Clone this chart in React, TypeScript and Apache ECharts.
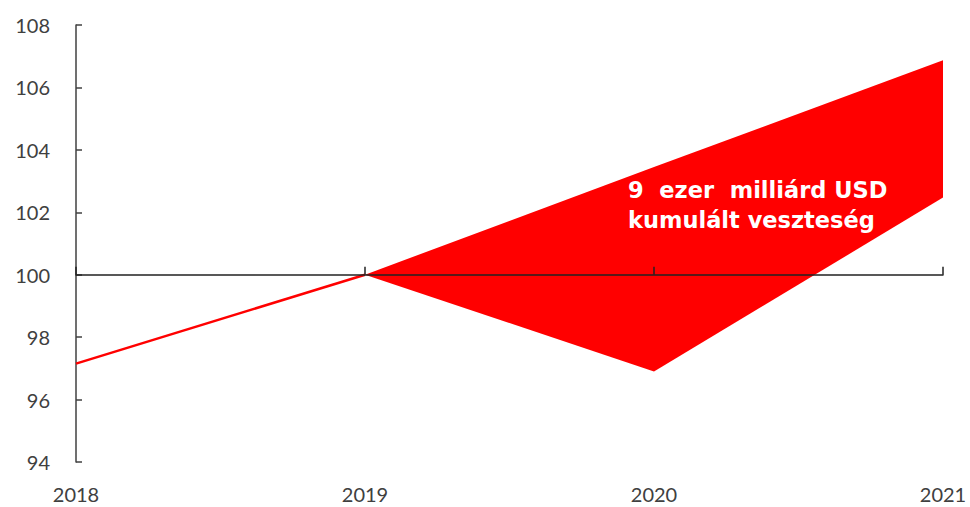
import React, { useEffect, useRef } from "react";
import * as echarts from "echarts";

const years = ["2018", "2019", "2020", "2021"];
const history = [97.15, 100, null, null];
const upper = [null, 100, 103.45, 106.87];
const lower = [null, 100, 96.9, 102.47];
const yTicks = { min: 94, max: 108, interval: 2 };
const noteLines = ["9  ezer  milliárd USD", "kumulált veszteség"];

export default function App() {
  const ref = useRef<HTMLDivElement>(null);
  useEffect(() => {
    if (!ref.current) return;
    const chart = echarts.init(ref.current, null, { renderer: "svg" });
    const gridTop = 25;
    const gridBottom = 45;
    const gridH = 507 - gridTop - gridBottom;
    const zeroOffset = -gridH * (100 - yTicks.min) / (yTicks.max - yTicks.min);
    const diff = upper.map((u, i) => (u == null || lower[i] == null ? null : +(u - (lower[i] as number)).toFixed(3)));
    const axisColor = "#404040";
    chart.setOption({
      animation: false,
      grid: { left: 76, right: 27, top: gridTop, bottom: gridBottom, containLabel: false },
      xAxis: [
        {
          type: "category",
          data: years,
          boundaryGap: false,
          position: "bottom",
          axisLine: { show: false },
          axisTick: { show: false },
          axisLabel: { color: axisColor, fontSize: 20, fontFamily: "Lato", margin: 22 },
          splitLine: { show: false },
        },
        {
          type: "category",
          data: years,
          boundaryGap: false,
          position: "bottom",
          offset: zeroOffset,
          z: 5,
          axisLine: { show: true, onZero: false, lineStyle: { color: "#222", width: 1.5 } },
          axisTick: { show: true, inside: true, length: 8, lineStyle: { color: "#222", width: 1.5 } },
          axisLabel: { show: false },
          splitLine: { show: false },
        },
      ],
      yAxis: {
        type: "value",
        min: yTicks.min,
        max: yTicks.max,
        interval: yTicks.interval,
        axisLine: { show: true, lineStyle: { color: axisColor, width: 1.5 } },
        axisTick: { show: true, inside: true, length: 6, lineStyle: { color: axisColor, width: 1.5 } },
        axisLabel: { color: axisColor, fontSize: 20, fontFamily: "Lato", margin: 26 },
        splitLine: { show: false },
      },
      series: [
        {
          type: "line",
          data: history,
          symbol: "none",
          lineStyle: { color: "#ff0000", width: 2.5 },
          z: 3,
        },
        {
          type: "line",
          data: lower,
          stack: "band",
          symbol: "none",
          lineStyle: { width: 0, opacity: 0 },
          z: 2,
        },
        {
          type: "line",
          data: diff,
          stack: "band",
          symbol: "none",
          lineStyle: { width: 0, opacity: 0 },
          areaStyle: { color: "#ff0000", opacity: 1 },
          z: 2,
        },
      ],
      graphic: [
        {
          type: "text",
          left: 628,
          top: 175,
          z: 10,
          style: {
            text: noteLines.join("\n"),
            fill: "#ffffff",
            font: "bold 22.5px 'DejaVu Sans'",
            lineHeight: 30,
          },
        },
      ],
    });
    return () => chart.dispose();
  }, []);
  return <div ref={ref} style={{ width: 970, height: 507, position: "absolute", left: 0, top: 0 }} />;
}
